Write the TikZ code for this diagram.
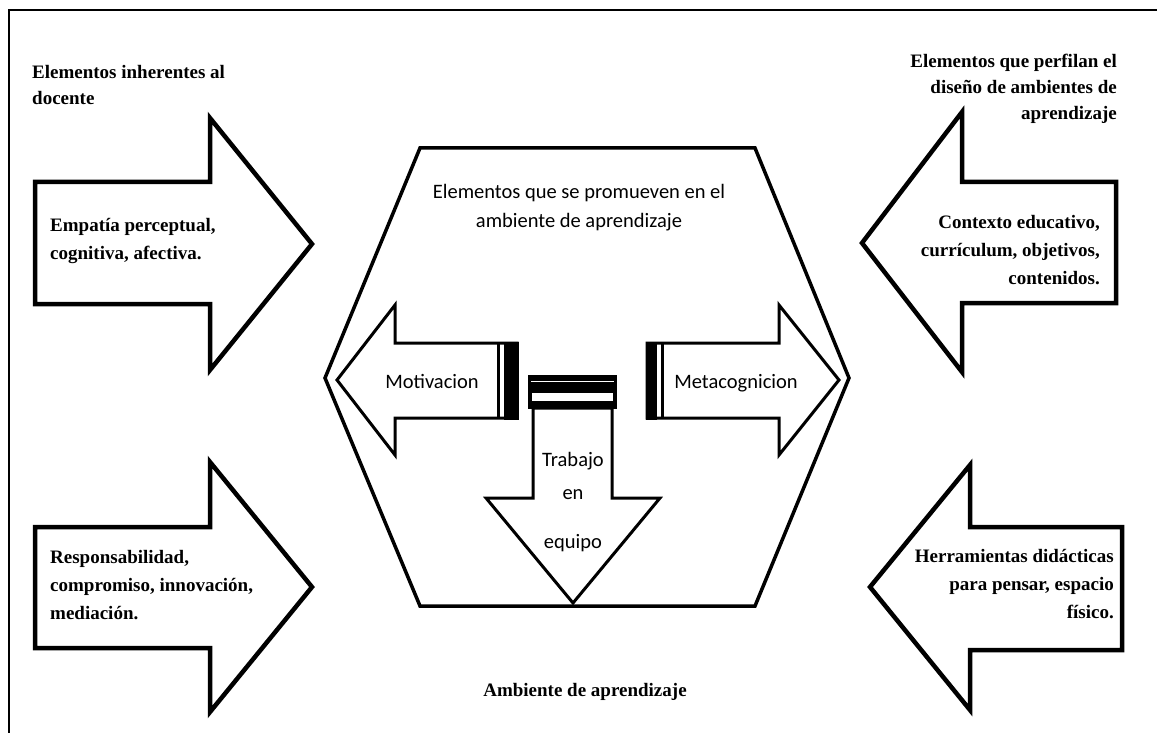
\documentclass[tikz,border=0pt]{standalone}
\usepackage{fontspec}
\setmainfont{Liberation Serif}
\newfontfamily\carlitofont{Carlito}

\tikzset{
	bigarrow/.style={line width=4.5pt, fill=white},
	smallarrow/.style={line width=3pt, fill=white},
	hexa/.style={line width=3.5pt},
	outertext/.style={font=\bfseries\fontsize{19}{28}\selectfont, inner sep=0pt},
	innertext/.style={font=\carlitofont\fontsize{20.5}{29}\selectfont, inner sep=0pt}
}

\begin{document}
\begin{tikzpicture}[x=1pt,y=-1pt]
	\useasboundingbox (0,0) rectangle (1157,733);

	% frame
	\draw[line width=2.5pt] (9,733) -- (9,10) -- (1157,10);

	% arrows round the hexagon
	\draw[bigarrow] (35,182) -- (210,182) -- (210,118) -- (312,244) -- (210,370) -- (210,304) -- (35,304) -- cycle;
	\draw[bigarrow] (35,527) -- (210,527) -- (210,462) -- (312,587) -- (210,712) -- (210,648) -- (35,648) -- cycle;
	\draw[bigarrow] (1116,182) -- (962,182) -- (962,112) -- (862,243) -- (962,372) -- (962,303) -- (1116,303) -- cycle;
	\draw[bigarrow] (1122,527) -- (970,527) -- (970,465) -- (870,587) -- (970,710) -- (970,650) -- (1122,650) -- cycle;

	% hexagon
	\draw[hexa] (420,148) -- (755,148) -- (849,378) -- (755,606) -- (420,606) -- (325,378) -- cycle;

	% arrows inside
	\draw[smallarrow] (517,343) -- (395,343) -- (395,305) -- (337,380) -- (395,455) -- (395,418) -- (517,418) -- cycle;
	\fill (504,341.5) rectangle (518.5,419.5);
	\draw[line width=3pt] (498,343) -- (498,418);

	\draw[smallarrow] (647,343) -- (779,343) -- (779,305) -- (839,380) -- (779,455) -- (779,418) -- (647,418) -- cycle;
	\fill (645.5,341.5) rectangle (657,419.5);
	\draw[line width=3pt] (662,343) -- (662,418);

	\draw[smallarrow] (533,408) -- (612,408) -- (612,498) -- (660,498) -- (573,603) -- (486,498) -- (533,498) -- cycle;
	\fill (528,375) rectangle (617,409);
	\draw[white, line width=1.2pt] (531,381.5) -- (614,381.5);
	\fill[white] (532,393) rectangle (613,401);

	% texts
	\node[outertext, anchor=north west, align=left] (docente) at (32,65.5) {Elementos inherentes al\\[-2pt]docente};
	\node[outertext, anchor=north east, align=right] (perfilan) at (1117,53.5) {Elementos que perfilan el\\[-2pt]diseño de ambientes de\\[-2pt]aprendizaje};
	\node[outertext, anchor=north west, align=left] (empatia) at (50,218) {Empatía perceptual,\\cognitiva, afectiva.};
	\node[outertext, anchor=north east, align=right] (contexto) at (1100,215) {Contexto educativo,\\currículum, objetivos,\\contenidos.};
	\node[outertext, anchor=north west, align=left] (responsabilidad) at (50,550) {Responsabilidad,\\compromiso, innovación,\\mediación.};
	\node[outertext, anchor=north east, align=right] (herramientas) at (1114,549) {Herramientas didácticas\\para pensar, espacio\\físico.};

	\node[innertext, anchor=north, align=center] (promueven) at (579,184) {Elementos que se promueven en el\\ambiente de aprendizaje};
	\node[innertext, anchor=base] (motivacion) at (432,388) {Motivacion};
	\node[innertext, anchor=base] (meta) at (736,388) {Metacognicion};
	\node[innertext, anchor=north, align=center, font=\carlitofont\fontsize{20.5}{33}\selectfont] (trabajo) at (573,452) {Trabajo\\en\\[16pt]equipo};

	\node[outertext, anchor=base] (ambiente) at (585,696) {Ambiente de aprendizaje};
\end{tikzpicture}
\end{document}
